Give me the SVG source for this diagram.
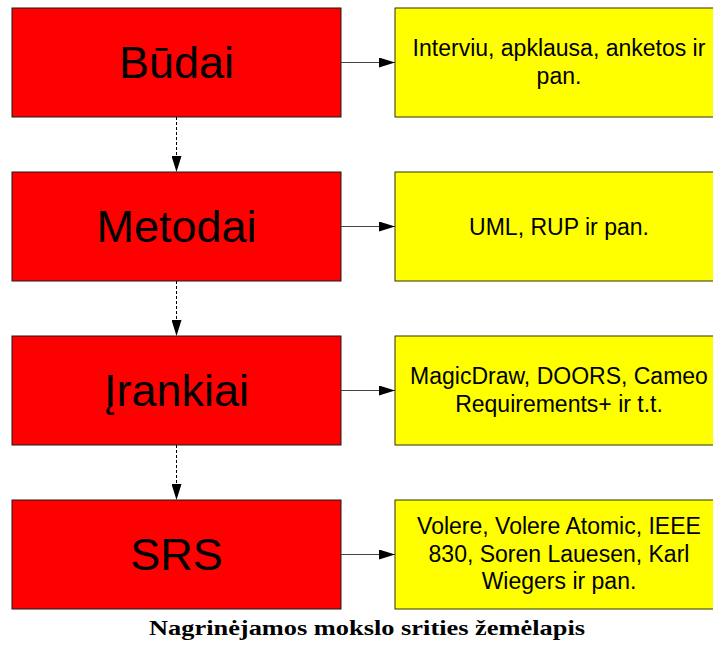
<svg xmlns="http://www.w3.org/2000/svg" width="713" height="647" viewBox="0 0 713 647">
<style>
.red{fill:#ff0000;stroke:#1a1a1a;stroke-width:1}
.yel{fill:#ffff00;stroke:#333300;stroke-width:1}
.big{font-family:"Liberation Sans",Arial,sans-serif;font-size:45px;fill:#000;text-anchor:middle}
.sm{font-family:"Liberation Sans",Arial,sans-serif;font-size:23px;fill:#000;text-anchor:middle}
.h{stroke:#444;stroke-width:1.2;fill:none}
.v{stroke:#000;stroke-width:1;stroke-dasharray:3,2;fill:none}
.cap{font-family:"Liberation Serif","Times New Roman",serif;font-size:22px;font-weight:bold;fill:#000;text-anchor:middle}
</style>
<defs>
<marker id="ah" markerWidth="16" markerHeight="10" refX="16" refY="5" orient="auto" markerUnits="userSpaceOnUse">
<path d="M0,0 L16,5 L0,10 Z" fill="#000"/>
</marker>
</defs>
<g id="n1"><rect class="red" x="12" y="8" width="329" height="109"/><text class="big" x="176.5" y="77.5">Būdai</text></g>
<g id="n2"><rect class="red" x="12" y="172" width="329" height="109"/><text class="big" x="176.5" y="241.5">Metodai</text></g>
<g id="n3"><rect class="red" x="12" y="336" width="329" height="109"/><text class="big" x="176.5" y="405.5">Įrankiai</text></g>
<g id="n4"><rect class="red" x="12" y="500" width="329" height="109"/><text class="big" x="176.5" y="569.5">SRS</text></g>
<g id="y1"><rect class="yel" x="395" y="8" width="329" height="109"/><text class="sm" x="559" y="56">Interviu, apklausa, anketos ir</text><text class="sm" x="559" y="83.5">pan.</text></g>
<g id="y2"><rect class="yel" x="395" y="172" width="329" height="109"/><text class="sm" x="559" y="234.5">UML, RUP ir pan.</text></g>
<g id="y3"><rect class="yel" x="395" y="336" width="329" height="109"/><text class="sm" x="559" y="383.5">MagicDraw, DOORS, Cameo</text><text class="sm" x="559" y="411.5">Requirements+ ir t.t.</text></g>
<g id="y4"><rect class="yel" x="395" y="500" width="329" height="109"/><text class="sm" x="559" y="533.5">Volere, Volere Atomic, IEEE</text><text class="sm" x="559" y="561.5">830, Soren Lauesen, Karl</text><text class="sm" x="559" y="589">Wiegers ir pan.</text></g>
<g id="connectors">
<line class="h" x1="341" y1="62.5" x2="395" y2="62.5" marker-end="url(#ah)"/>
<line class="h" x1="341" y1="226.5" x2="395" y2="226.5" marker-end="url(#ah)"/>
<line class="h" x1="341" y1="390.5" x2="395" y2="390.5" marker-end="url(#ah)"/>
<line class="h" x1="341" y1="554.5" x2="395" y2="554.5" marker-end="url(#ah)"/>
<line class="v" x1="176.5" y1="117" x2="176.5" y2="172" marker-end="url(#ah)"/>
<line class="v" x1="176.5" y1="281" x2="176.5" y2="336" marker-end="url(#ah)"/>
<line class="v" x1="176.5" y1="445" x2="176.5" y2="500" marker-end="url(#ah)"/>
</g>
<text class="cap" x="367" y="635" textLength="436" lengthAdjust="spacingAndGlyphs">Nagrinėjamos mokslo srities žemėlapis</text>
</svg>
